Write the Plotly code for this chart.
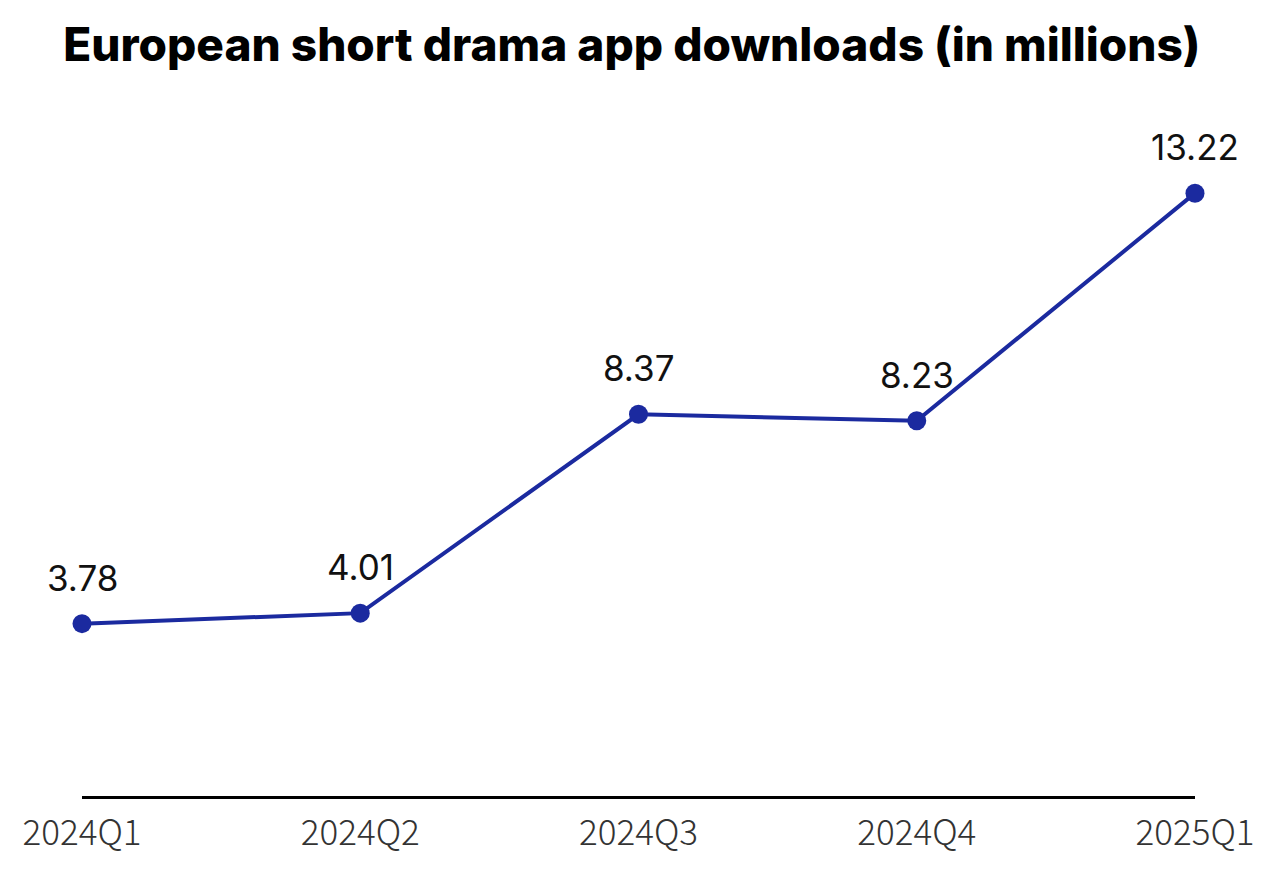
import plotly.graph_objects as go

quarters = ["2024Q1", "2024Q2", "2024Q3", "2024Q4", "2025Q1"]
downloads = [3.78, 4.01, 8.37, 8.23, 13.22]

fig = go.Figure(go.Scatter(
    x=quarters, y=downloads,
    mode="lines+markers",
    line=dict(color="#1b2a9f", width=4),
    marker=dict(color="#1b2a9f", size=19),
    cliponaxis=False,
))

# value labels sit a fixed distance above each point
for q, v in zip(quarters, downloads):
    fig.add_annotation(x=q, y=v, text=f"{v:.2f}", showarrow=False,
                       yshift=46, yanchor="middle",
                       font=dict(family="Inter, sans-serif", size=35, color="#111111"))

# page body has an 8px margin, so margins are shifted by that much
fig.update_layout(
    title=dict(text="European short drama app downloads (in millions)",
               x=0.487, xanchor="center", y=0.958, yanchor="middle",
               font=dict(family="Inter, sans-serif", size=46, color="#000000", weight=800)),
    width=1281, height=878,
    margin=dict(l=74, r=94, t=104, b=90),
    plot_bgcolor="white", paper_bgcolor="white",
    showlegend=False,
    xaxis=dict(range=[0, 4], showgrid=False, showline=True, linecolor="#000000",
               linewidth=3, ticks="", ticklabelstandoff=4,
               tickfont=dict(family="Noto Sans CJK SC, sans-serif", size=35,
                             color="#333333", weight=300)),
    yaxis=dict(range=[0, 15], visible=False, showgrid=False, zeroline=False),
)

fig.write_html("out.html")
